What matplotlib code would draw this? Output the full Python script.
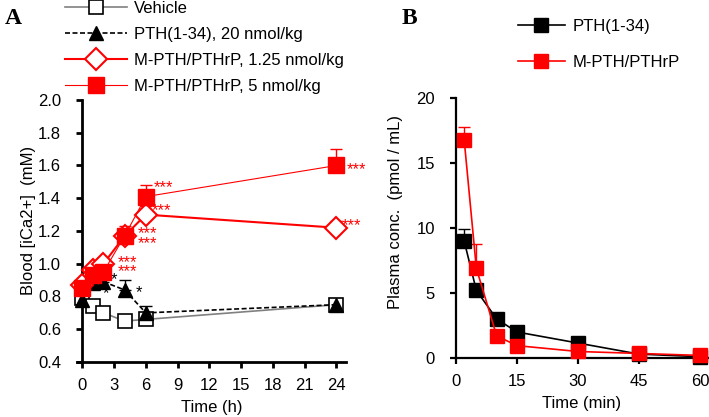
import numpy as np
import matplotlib.pyplot as plt

plt.rcParams['font.family'] = ['Liberation Sans', 'DejaVu Sans']
plt.rcParams['font.size'] = 12

# panel A: blood ionized calcium (mM) vs time (h)
hours = [0, 1, 2, 4, 6, 24]
vehicle = [0.79, 0.74, 0.70, 0.65, 0.66, 0.75]
vehicle_err = [0.01, 0.01, 0.01, 0.01, 0.01, 0.01]
pth = [0.78, 0.88, 0.89, 0.84, 0.70, 0.75]
pth_err = [0.02, 0.02, 0.02, 0.06, 0.04, 0.02]
mpth_low = [0.87, 0.96, 1.00, 1.17, 1.30, 1.22]
mpth_low_err = [0.03, 0.04, 0.03, 0.06, 0.05, 0.04]
mpth_high = [0.85, 0.93, 0.95, 1.17, 1.41, 1.60]
mpth_high_err = [0.03, 0.04, 0.04, 0.05, 0.07, 0.10]

# significance marks (x in h, y in mM); stacked pairs share one label
red_star_x = [3.35, 5.2, 6.6, 6.7, 24.5, 25.0]
red_star_y = [1.005, 1.178, 1.35, 1.49, 1.255, 1.60]
red_star_txt = ['***\n***', '***\n***', '***', '***', '***', '***']
black_star_x = [2.7, 1.9, 5.0]
black_star_y = [0.93, 0.84, 0.85]

# panel B: plasma concentration (pmol/mL) vs time (min)
minutes = [2, 5, 10, 15, 30, 45, 60]
pk_pth = [9.0, 5.2, 3.0, 2.0, 1.15, 0.3, 0.1]
pk_pth_err = [0.9, 0.3, 0.2, 0.2, 0.1, 0.05, 0.05]
pk_mpth = [16.8, 6.9, 1.7, 0.95, 0.5, 0.35, 0.2]
pk_mpth_err = [1.0, 1.9, 0.2, 0.1, 0.1, 0.05, 0.05]

RED = '#ff0000'


def upper_err(ax, x, y, e, color, lw=1.0):
    e = np.asarray(e)
    ax.errorbar(x, y, yerr=[np.zeros_like(e), e], fmt='none', ecolor=color,
                elinewidth=lw, capsize=4.5, capthick=lw, clip_on=False, zorder=2)


def style_axis(ax, lw):
    ax.spines['top'].set_visible(False)
    ax.spines['right'].set_visible(False)
    ax.spines['left'].set_linewidth(lw)
    ax.spines['bottom'].set_linewidth(lw)
    ax.tick_params(direction='out', length=4.3, width=lw, labelsize=12)
    ax.tick_params(axis='y', pad=11)
    ax.tick_params(axis='x', pad=7)


fig = plt.figure(figsize=(7.09, 4.17), dpi=100)
axA = fig.add_axes([0.1086, 0.1319, 0.3794, 0.6283])
axB = fig.add_axes([0.6432, 0.1415, 0.3554, 0.6235])

# ---- panel A
upper_err(axA, hours, vehicle, vehicle_err, '#606060')
upper_err(axA, hours, pth, pth_err, 'black')
upper_err(axA, hours, mpth_low, mpth_low_err, RED)
upper_err(axA, hours, mpth_high, mpth_high_err, RED)

h1, = axA.plot(hours, vehicle, '-', color='#808080', lw=1.2, marker='s', ms=10,
               mfc='white', mec='black', mew=1.2, clip_on=False, zorder=3,
               label='Vehicle')
h2, = axA.plot(hours, pth, color='black', lw=1.2, ls=(0, (3, 1.5)), marker='^',
               ms=10, mfc='black', mec='black', clip_on=False, zorder=4,
               label='PTH(1-34), 20 nmol/kg')
h3, = axA.plot(hours, mpth_low, '-', color=RED, lw=1.5, marker='D', ms=11.5,
               mfc='white', mec=RED, mew=1.5, clip_on=False, zorder=5,
               label='M-PTH/PTHrP, 1.25 nmol/kg')
h4, = axA.plot(hours, mpth_high, '-', color=RED, lw=0.8, marker='s', ms=11.5,
               mfc=RED, mec=RED, clip_on=False, zorder=6,
               label='M-PTH/PTHrP, 5 nmol/kg')

for x, y, s in zip(red_star_x, red_star_y, red_star_txt):
    axA.text(x, y - 0.025, s, color=RED, fontsize=12, va='center', ha='left',
             linespacing=0.55)
for x, y in zip(black_star_x, black_star_y):
    axA.text(x, y - 0.025, '*', color='black', fontsize=12, va='center', ha='left')

axA.set_xlim(-0.5, 24.9)
axA.set_ylim(0.4, 2.0)
axA.spines['left'].set_position(('data', 0))
axA.set_xticks(range(0, 25, 3))
axA.set_yticks(np.arange(0.4, 2.01, 0.2))
axA.set_yticklabels([f'{v:.1f}' for v in np.arange(0.4, 2.01, 0.2)])
style_axis(axA, 2.0)
axA.set_xlabel('Time (h)', fontsize=12, labelpad=5)
axA.set_ylabel('Blood [iCa2+]  (mM)', fontsize=12)
axA.yaxis.set_label_coords(-0.152, 0.542)

fig.legend(handles=[h1, h2, h3, h4], loc='upper left',
           bbox_to_anchor=(65 / 709, 0.997), frameon=False, fontsize=12,
           handlelength=3.7, handletextpad=0.45, labelspacing=0.66, borderpad=0,
           borderaxespad=0)

# ---- panel B
upper_err(axB, minutes, pk_pth, pk_pth_err, 'black')
upper_err(axB, minutes, pk_mpth, pk_mpth_err, RED)
b1, = axB.plot(minutes, pk_pth, '-', color='black', lw=1.2, marker='s', ms=10,
               mfc='black', mec='black', clip_on=False, zorder=3,
               label='PTH(1-34)')
b2, = axB.plot(minutes, pk_mpth, '-', color=RED, lw=1.2, marker='s', ms=10,
               mfc=RED, mec=RED, clip_on=False, zorder=4,
               label='M-PTH/PTHrP')
axB.set_xlim(0, 62)
axB.set_ylim(0, 20)
axB.set_xticks([0, 15, 30, 45, 60])
axB.set_yticks([0, 5, 10, 15, 20])
style_axis(axB, 1.6)
axB.set_xlabel('Time (min)', fontsize=12, labelpad=5)
axB.set_ylabel('Plasma conc.  (pmol / mL)', fontsize=12)
axB.yaxis.set_label_coords(-0.21, 0.56)

fig.legend(handles=[b1, b2], loc='upper left',
           bbox_to_anchor=(518 / 709, 0.955), frameon=False, fontsize=12,
           handlelength=2.8, handletextpad=0.45, labelspacing=1.28, borderpad=0,
           borderaxespad=0)

fig.text(5 / 709, 1 - 8 / 417, 'A', fontsize=17, fontweight='bold',
         family='Liberation Serif', va='top', ha='left')
fig.text(402 / 709, 1 - 8 / 417, 'B', fontsize=17, fontweight='bold',
         family='Liberation Serif', va='top', ha='left')

fig.savefig('out.png', dpi=100)
